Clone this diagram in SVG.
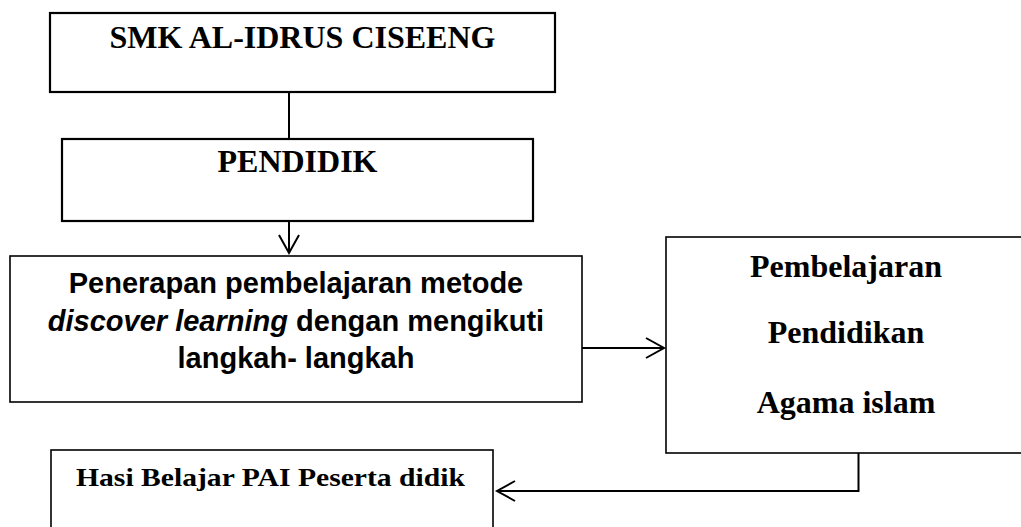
<svg xmlns="http://www.w3.org/2000/svg" width="1021" height="527" viewBox="0 0 1021 527">
<style>
.box{fill:#fff;stroke:#000;stroke-width:1.6}
.thick{stroke-width:2.2}
.serif{font-family:"Liberation Serif","Times New Roman",serif;font-weight:bold;fill:#000}
.sans{font-family:"Liberation Sans",Arial,sans-serif;font-weight:bold;fill:#000;font-size:29px}
.conn{fill:none;stroke:#000;stroke-width:2}
</style>
<defs>
<marker id="open" viewBox="-20 -12 22 24" markerWidth="22" markerHeight="24" refX="0" refY="0" orient="auto" markerUnits="userSpaceOnUse" overflow="visible">
<path d="M -18 -10 L 0 0 L -18 10" fill="none" stroke="#000" stroke-width="2"/>
</marker>
</defs>
<rect width="1021" height="527" fill="#fff"/>
<g id="connectors">
<line class="conn" x1="289" y1="92" x2="289" y2="139"/>
<line class="conn" x1="289" y1="221" x2="289" y2="253" marker-end="url(#open)"/>
<line class="conn" x1="582" y1="348" x2="664" y2="348" marker-end="url(#open)"/>
<polyline class="conn" points="858.5,453 858.5,491 497,491" marker-end="url(#open)"/>
</g>
<g id="node-smk">
<rect class="box thick" x="50" y="13" width="505" height="79"/>
<text class="serif" x="302.5" y="48" font-size="32" text-anchor="middle">SMK AL-IDRUS CISEENG</text>
</g>
<g id="node-pendidik">
<rect class="box thick" x="62" y="139" width="471" height="82"/>
<text class="serif" x="297.5" y="172" font-size="32" text-anchor="middle">PENDIDIK</text>
</g>
<g id="node-penerapan">
<rect class="box" x="10" y="256" width="572" height="146"/>
<text class="sans" x="296" y="293" text-anchor="middle">Penerapan pembelajaran metode</text>
<text class="sans" x="296" y="330.5" text-anchor="middle"><tspan font-style="italic">discover learning</tspan> dengan mengikuti</text>
<text class="sans" x="296" y="368" text-anchor="middle">langkah- langkah</text>
</g>
<g id="node-pembelajaran">
<rect class="box" x="666" y="237" width="360" height="216"/>
<text class="serif" x="846" y="277" font-size="32" text-anchor="middle">Pembelajaran</text>
<text class="serif" x="846" y="343" font-size="32" text-anchor="middle">Pendidikan</text>
<text class="serif" x="846" y="413" font-size="32" text-anchor="middle">Agama islam</text>
</g>
<g id="node-hasil">
<rect class="box" x="51" y="450" width="442" height="90"/>
<text class="serif" x="76" y="485.7" font-size="26" textLength="389" lengthAdjust="spacingAndGlyphs">Hasi Belajar PAI Peserta didik</text>
</g>
</svg>
